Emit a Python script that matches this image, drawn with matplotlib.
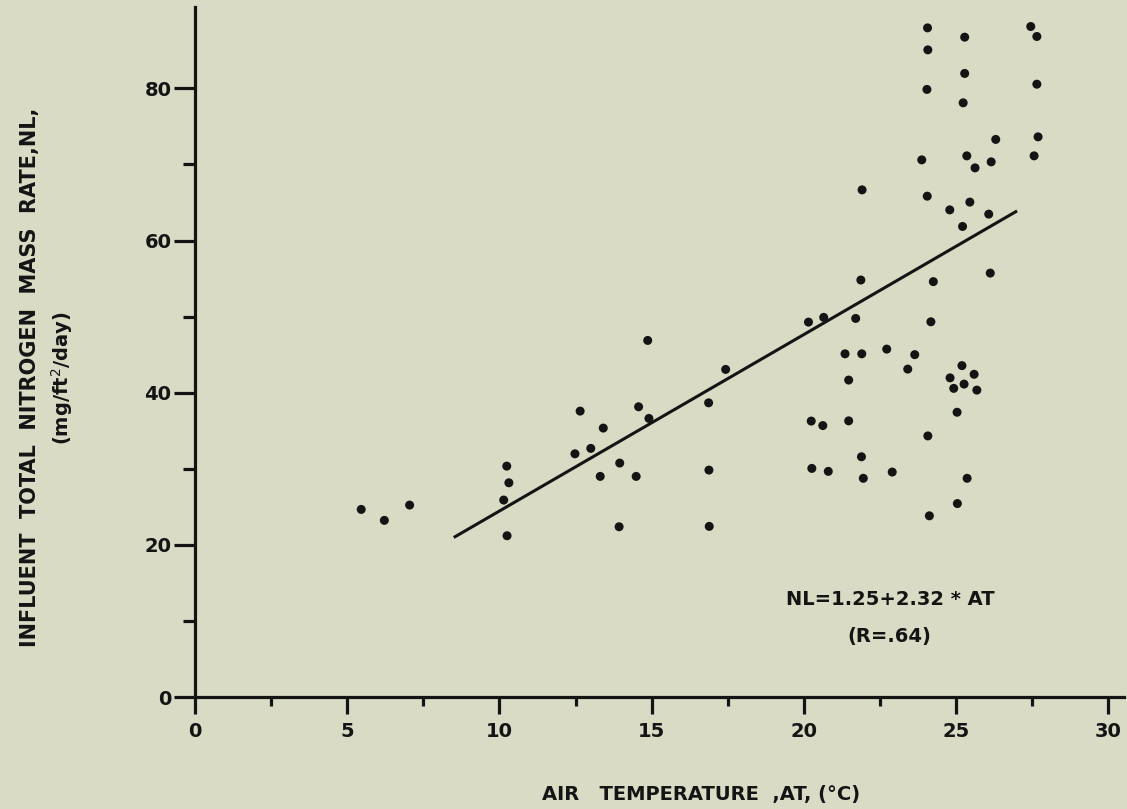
import matplotlib
matplotlib.use("Agg")
import matplotlib.pyplot as plt
import numpy as np
from matplotlib.ticker import MultipleLocator, FixedLocator

# Air temperature (deg C) and influent total nitrogen mass rate (mg/ft2/day)
air_temp = [5.46, 6.22, 7.05, 10.24, 10.31, 10.14, 10.25, 12.65, 12.48, 13.0,
            13.41, 13.31, 13.95, 14.49, 13.93, 14.57, 14.91, 14.87, 16.87, 17.43,
            16.88, 16.89, 20.15, 20.65, 21.7, 21.35, 21.47, 20.24, 20.62, 21.47,
            20.26, 20.8, 21.91, 24.05, 24.79, 25.45, 25.21, 21.87, 24.25, 24.17,
            21.9, 22.72, 23.64, 23.41, 25.19, 25.59, 24.8, 25.26, 24.92, 25.68,
            25.03, 24.07, 21.89, 21.95, 22.9, 25.36, 25.04, 24.12, 24.06, 24.07,
            24.04, 25.28, 25.28, 25.23, 27.45, 27.65, 27.65, 27.69, 27.56, 26.3,
            25.35, 25.62, 26.15, 23.87, 26.07, 26.12]
nitrogen = [24.66, 23.22, 25.23, 30.35, 28.16, 25.89, 21.2, 37.58, 31.97, 32.68,
            35.35, 29.0, 30.75, 29.0, 22.38, 38.15, 36.62, 46.87, 38.67, 43.06,
            29.83, 22.43, 49.28, 49.9, 49.76, 45.11, 41.66, 36.27, 35.68, 36.3,
            30.05, 29.66, 66.66, 65.83, 64.03, 65.05, 61.85, 54.81, 54.6, 49.32,
            45.11, 45.73, 45.0, 43.1, 43.56, 42.42, 41.95, 41.13, 40.57, 40.34,
            37.43, 34.32, 31.58, 28.75, 29.57, 28.75, 25.43, 23.82, 87.95, 85.06,
            79.86, 86.73, 81.96, 78.1, 88.13, 86.82, 80.55, 73.63, 71.13, 73.29,
            71.13, 69.55, 70.34, 70.6, 63.47, 55.72]

# Regression NL = 1.25 + 2.32 * AT, drawn over AT range
intercept = 1.25
slope = 2.32
fit_range = [8.5, 27.0]

x_ticks = [0, 5, 10, 15, 20, 25, 30]
y_ticks = [0, 20, 40, 60, 80]
y_minor = [10, 30, 50, 70]

bg = "#d9dbc5"
ink = "#141414"

fig = plt.figure(figsize=(11.27, 8.09), dpi=100, facecolor=bg)
ax = fig.add_axes([0.173, 0.1384, 0.824, 0.853])
ax.set_facecolor(bg)

ax.scatter(air_temp, nitrogen, s=42, color=ink, edgecolors="none", zorder=3)
fx = np.array(fit_range)
ax.plot(fx, intercept + slope * fx, color=ink, lw=2.2, solid_capstyle="butt", zorder=2)

ax.set_xlim(0, 30.5)
ax.set_ylim(0, 90.7)
ax.set_xticks(x_ticks)
ax.set_yticks(y_ticks)
ax.xaxis.set_minor_locator(MultipleLocator(2.5))
ax.yaxis.set_minor_locator(FixedLocator(y_minor))

for s in ["top", "right"]:
    ax.spines[s].set_visible(False)
for s in ["left", "bottom"]:
    ax.spines[s].set_linewidth(2.3)
    ax.spines[s].set_color(ink)

ax.tick_params(axis="x", which="major", direction="out", length=12, width=2.3,
               color=ink, labelsize=14, labelcolor=ink, pad=6)
ax.tick_params(axis="x", which="minor", direction="out", length=6.5, width=2.3, color=ink)
ax.tick_params(axis="y", which="major", direction="out", length=15, width=2.3,
               color=ink, labelsize=14, labelcolor=ink, pad=2)
ax.tick_params(axis="y", which="minor", direction="out", length=9, width=2.3, color=ink)
for lab in ax.get_xticklabels() + ax.get_yticklabels():
    lab.set_fontweight("semibold")

fig.text(0.622, 0.0175, "AIR   TEMPERATURE  ,AT, (°C)", ha="center", va="center",
         fontsize=14, color=ink, fontweight="bold", family="DejaVu Sans")
fig.text(0.027, 0.533, "INFLUENT  TOTAL  NITROGEN  MASS  RATE,NL,", rotation=90,
         ha="center", va="center", fontsize=15, color=ink, fontweight="bold")
fig.text(0.055, 0.533, "(mg/ft$^2$/day)", rotation=90,
         ha="center", va="center", fontsize=14, color=ink, fontweight="bold")

ax.text(22.85, 12.8, "NL=1.25+2.32 * AT", ha="center", va="center",
        fontsize=14, color=ink, fontweight="bold")
ax.text(22.8, 8.0, "(R=.64)", ha="center", va="center",
        fontsize=14, color=ink, fontweight="bold")

fig.savefig("out.png", dpi=100, facecolor=bg)
